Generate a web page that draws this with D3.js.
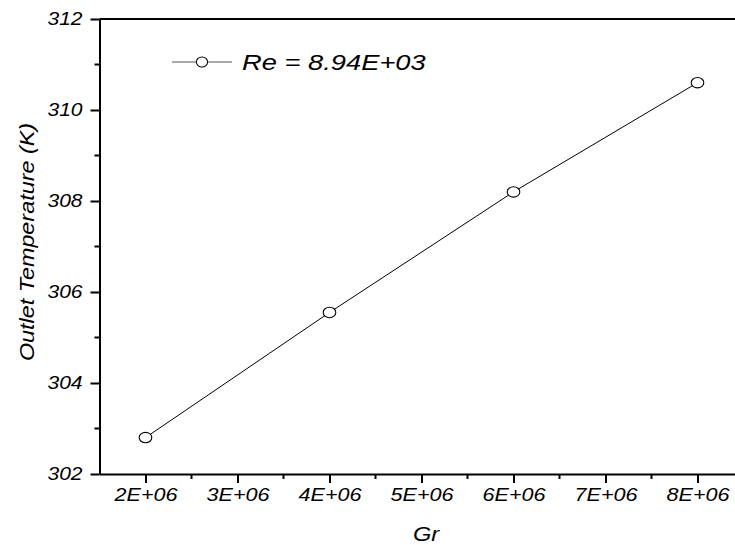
<!DOCTYPE html>
<html>
<head>
<meta charset="utf-8">
<script src="https://cdn.jsdelivr.net/npm/d3@7"></script>
<style>
  body { margin: 0; background: #fff; }
  svg text { font-family: "Liberation Sans", Arial, sans-serif; font-style: italic; fill: #000; }
</style>
</head>
<body>
<div id="chart"></div>
<script>
// data
var grValues = [2e6, 4e6, 6e6, 8e6];
var outletTemp = [302.8, 305.55, 308.2, 310.6];
var seriesLabel = "Re = 8.94E+03";
var xTicks = [2e6, 3e6, 4e6, 5e6, 6e6, 7e6, 8e6];
var xTickLabels = ["2E+06", "3E+06", "4E+06", "5E+06", "6E+06", "7E+06", "8E+06"];
var yTicks = [302, 304, 306, 308, 310, 312];

var width = 735, height = 545;

var svg = d3.select("#chart").append("svg")
  .attr("width", width)
  .attr("height", height);

var x = d3.scaleLinear().domain([1.5e6, 8.5e6]).range([99.5, 743.5]);
var y = d3.scaleLinear().domain([302, 312]).range([474, 19]);

// text in the figure is drawn a bit wide, stretch it horizontally
function widen(sel, k) {
  sel.each(function() {
    var w = this.getComputedTextLength();
    d3.select(this).attr("textLength", w * k).attr("lengthAdjust", "spacingAndGlyphs");
  });
}

// top frame line
svg.append("line")
  .attr("x1", x.range()[0]).attr("x2", width)
  .attr("y1", y(312)).attr("y2", y(312))
  .attr("stroke", "#000").attr("stroke-width", 2);

// x axis
var xAxis = svg.append("g")
  .attr("transform", "translate(0," + y(302) + ")")
  .call(d3.axisBottom(x).tickValues(xTicks)
    .tickFormat(function(d, i) { return xTickLabels[i]; })
    .tickSize(9).tickSizeOuter(0).tickPadding(6));
xAxis.select(".domain").attr("stroke-width", 2);
xAxis.selectAll(".tick line").attr("stroke-width", 2);
xAxis.selectAll(".tick text").style("font-size", "17.5px").call(widen, 1.23);

// x minor ticks
var xMinor = d3.range(2.5e6, 8.6e6, 1e6);
svg.append("g").selectAll("line").data(xMinor).enter().append("line")
  .attr("x1", function(d) { return x(d); }).attr("x2", function(d) { return x(d); })
  .attr("y1", y(302)).attr("y2", y(302) + 5)
  .attr("stroke", "#000").attr("stroke-width", 2);

// y axis
var yAxis = svg.append("g")
  .attr("transform", "translate(" + x.range()[0] + ",0)")
  .call(d3.axisLeft(y).tickValues(yTicks).tickFormat(d3.format("d"))
    .tickSize(9).tickSizeOuter(0).tickPadding(8));
yAxis.select(".domain").attr("stroke-width", 2);
yAxis.selectAll(".tick line").attr("stroke-width", 2);
yAxis.selectAll(".tick text").style("font-size", "17.5px").call(widen, 1.2);

var yMinor = d3.range(303, 312, 2);
svg.append("g").selectAll("line").data(yMinor).enter().append("line")
  .attr("x1", x.range()[0] - 5).attr("x2", x.range()[0])
  .attr("y1", function(d) { return y(d); }).attr("y2", function(d) { return y(d); })
  .attr("stroke", "#000").attr("stroke-width", 2);

// axis titles
svg.append("text")
  .attr("x", 426).attr("y", 541)
  .attr("text-anchor", "middle")
  .style("font-size", "20.5px")
  .text("Gr").call(widen, 1.15);

svg.append("text")
  .attr("transform", "translate(34,242) rotate(-90)")
  .attr("text-anchor", "middle")
  .style("font-size", "20.5px")
  .text("Outlet Temperature (K)").call(widen, 1.14);

// series
var pts = grValues.map(function(g, i) { return [g, outletTemp[i]]; });
var line = d3.line()
  .x(function(d) { return x(d[0]); })
  .y(function(d) { return y(d[1]); });

svg.append("path")
  .datum(pts)
  .attr("d", line)
  .attr("fill", "none")
  .attr("stroke", "#000")
  .attr("stroke-width", 1);

svg.append("g").selectAll("ellipse").data(pts).enter().append("ellipse")
  .attr("cx", function(d) { return x(d[0]); })
  .attr("cy", function(d) { return y(d[1]); })
  .attr("rx", 6.3).attr("ry", 5.2)
  .attr("fill", "#fff")
  .attr("stroke", "#000")
  .attr("stroke-width", 1.1);

// legend
var lg = svg.append("g");
lg.append("line")
  .attr("x1", 172).attr("x2", 232).attr("y1", 62).attr("y2", 62)
  .attr("stroke", "#555").attr("stroke-width", 1);
lg.append("ellipse")
  .attr("cx", 202).attr("cy", 62).attr("rx", 5.6).attr("ry", 5)
  .attr("fill", "#fff").attr("stroke", "#000").attr("stroke-width", 1.1);
lg.append("text")
  .attr("x", 242).attr("y", 70)
  .style("font-size", "21.5px")
  .text(seriesLabel).call(widen, 1.27);
</script>
</body>
</html>
